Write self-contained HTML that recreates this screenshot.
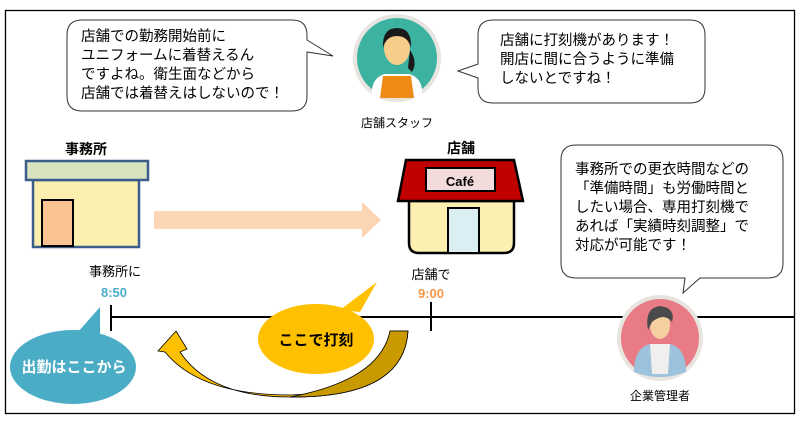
<!DOCTYPE html>
<html><head><meta charset="utf-8"><style>
body{margin:0;background:#fff;}
svg text{font-family:"Liberation Sans","Noto Sans CJK JP",sans-serif;}
</style></head><body>
<svg width="805" height="428" viewBox="0 0 805 428" xmlns="http://www.w3.org/2000/svg">
<rect x="5.5" y="10.5" width="789" height="403" fill="#fff" stroke="#000" stroke-width="1.3"/>
<path d="M82,20 H292 Q307,20 307,35 L307,40 L333,56 L307,52 L307,96 Q307,111 292,111 H82 Q67,111 67,96 V35 Q67,20 82,20 Z" fill="#fff" stroke="#333" stroke-width="1"/>
<g font-size="14.5" fill="#000">
<text x="81" y="41">店舗での勤務開始前に</text>
<text x="81" y="60">ユニフォームに着替えるん</text>
<text x="81" y="79">ですよね。衛生面などから</text>
<text x="81" y="98">店舗では着替えはしないので！</text>
</g>
<circle cx="397" cy="58" r="44" fill="#e8e4e0"/>
<circle cx="397" cy="58" r="40" fill="#3bb3a0"/>
<path d="M372,98 Q370,78 385,74 H409 Q424,78 422,98 Z" fill="#fff"/>
<path d="M380,98 L383,76 H411 L414,98 Z" fill="#ef8a14"/>
<ellipse cx="397" cy="48" rx="13" ry="17" fill="#f7cd8a"/>
<path d="M383,48 Q382,28 397,28 Q412,28 411,48 Q408,36 397,36 Q386,36 383,48 Z" fill="#1a1a1a"/>
<path d="M410,50 Q418,62 412,72 L408,68 Z" fill="#1a1a1a"/>
<text x="397" y="127" font-size="12" text-anchor="middle">店舗スタッフ</text>
<path d="M493,20 H690 Q705,20 705,35 V88 Q705,103 690,103 H493 Q478,103 478,88 V78 L458,71 L478,64 V35 Q478,20 493,20 Z" fill="#fff" stroke="#333" stroke-width="1"/>
<g font-size="14.5" fill="#000">
<text x="500" y="45">店舗に打刻機があります！</text>
<text x="500" y="64">開店に間に合うように準備</text>
<text x="500" y="83">しないとですね！</text>
</g>
<text x="86" y="154" font-size="14" font-weight="bold" text-anchor="middle">事務所</text>
<rect x="33" y="180" width="106" height="67" fill="#fbf0b0" stroke="#3a5d8c" stroke-width="2.5"/>
<rect x="26" y="161" width="122" height="19" fill="#d8e4c0" stroke="#3a5d8c" stroke-width="2.5"/>
<rect x="42" y="200" width="31" height="46" fill="#f9c394" stroke="#000" stroke-width="2"/>
<path d="M154,211 H362 V202 L381,220 L362,238 V229 H154 Z" fill="#fcd5b5"/>
<text x="461" y="153" font-size="14" font-weight="bold" text-anchor="middle">店舗</text>
<path d="M409,201 H514 V243 Q514,253 504,253 H419 Q409,253 409,243 Z" fill="#fbf0b0" stroke="#000" stroke-width="2.5"/>
<rect x="448" y="208" width="31" height="45" fill="#dbeef4" stroke="#000" stroke-width="2"/>
<path d="M406,160 H514 L523,201 H398 Z" fill="#c00000" stroke="#000" stroke-width="2.5"/>
<rect x="426" y="168" width="69" height="23" fill="#f2dcdb" stroke="#000" stroke-width="2"/>
<text x="460" y="186" font-size="13" font-weight="bold" text-anchor="middle">Café</text>
<path d="M576,145 H768 Q783,145 783,160 V263 Q783,278 768,278 H700 L683,293 L685,278 H576 Q561,278 561,263 V160 Q561,145 576,145 Z" fill="#fff" stroke="#333" stroke-width="1"/>
<g font-size="14.5" fill="#000">
<text x="575" y="174">事務所での更衣時間などの</text>
<text x="575" y="193">「準備時間」も労働時間と</text>
<text x="575" y="212">したい場合、専用打刻機で</text>
<text x="575" y="231">あれば「実績時刻調整」で</text>
<text x="575" y="250">対応が可能です！</text>
</g>
<line x1="110" y1="317" x2="794" y2="317" stroke="#000" stroke-width="2"/>
<line x1="111" y1="305" x2="111" y2="331" stroke="#000" stroke-width="2"/>
<line x1="431" y1="302" x2="431" y2="331" stroke="#000" stroke-width="2"/>
<circle cx="660" cy="338" r="43" fill="#e8e4e0"/>
<circle cx="660" cy="338" r="39" fill="#e87b85"/>
<path d="M634,372 Q634,348 650,344 H670 Q686,348 686,372 Q660,382 634,372 Z" fill="#9dc3dc"/>
<path d="M650,344 H670 L668,374 H652 Z" fill="#efefef"/>
<ellipse cx="660" cy="325" rx="10" ry="14" fill="#f6cfa0"/>
<path d="M648,330 Q644,308 660,306 Q676,308 672,322 Q664,312 652,322 Z" fill="#4a4a4a"/>
<text x="660" y="400" font-size="12" text-anchor="middle">企業管理者</text>
<text x="115" y="276" font-size="13" text-anchor="middle">事務所に</text>
<text x="114" y="297" font-size="13" font-weight="bold" fill="#4bacc6" text-anchor="middle">8:50</text>
<text x="431" y="279" font-size="13" text-anchor="middle">店舗で</text>
<text x="431" y="298" font-size="13" font-weight="bold" fill="#f79646" text-anchor="middle">9:00</text>
<path d="M390,331 H408 Q404,398 290,397 Q210,397 180,352 L187,349 L176,331 L158,351 L165,352 Q200,395 290,395 Q386,392 390,331 Z" fill="#ffc000" stroke="#000" stroke-width="0.8"/>
<path d="M390,331 H408 Q404,398 290,397 Q380,380 390,331 Z" fill="#c99a00" stroke="#000" stroke-width="0.8"/>
<path d="M78,332 L100,307 L100,335 Z" fill="#4bacc6"/>
<ellipse cx="73" cy="367" rx="63" ry="37" fill="#4bacc6"/>
<text x="74" y="372" font-size="15" font-weight="bold" fill="#fff" text-anchor="middle">出勤はここから</text>
<path d="M340,310 L377,282 L360,312 Z" fill="#ffc000"/>
<ellipse cx="316" cy="339" rx="58" ry="35" fill="#ffc000"/>
<text x="316" y="345" font-size="15" font-weight="bold" text-anchor="middle">ここで打刻</text>
</svg>
</body></html>
